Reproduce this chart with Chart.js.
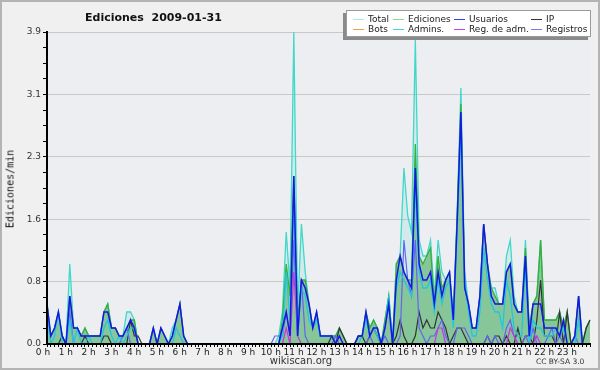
<!DOCTYPE html>
<html>
<head>
<meta charset="utf-8">
<script src="https://cdn.jsdelivr.net/npm/chart.js@4.4.1/dist/chart.umd.min.js"></script>
<style>
  body { margin: 0; background: #fff; }
  #wrap { position: relative; width: 600px; height: 370px; background: #f0f0f0; font-family: "DejaVu Sans", sans-serif; color: #222; overflow: hidden; }
  #wrap canvas { position: absolute; left: 0; top: 0; }
  #frame { position: absolute; left: 0; top: 0; right: 0; bottom: 0; border: 2px solid #b4b4b4; box-sizing: border-box; pointer-events: none; }
  #title { position: absolute; left: 85px; top: 11px; font-weight: bold; font-size: 11px; line-height: 13px; white-space: pre; color: #111; }
  #ytitle { position: absolute; left: 10px; top: 189px; transform: translate(-50%, -50%) rotate(-90deg); font: 10px "DejaVu Sans Mono", monospace; white-space: nowrap; color: #111; }
  #legend { position: absolute; left: 346px; top: 10px; width: 245px; height: 27px; background: #fff; border: 1px solid #9a9a9a; box-shadow: -3px 3px 0 #8a8a8a; box-sizing: border-box; }
  .item { position: absolute; font-size: 9px; line-height: 10px; white-space: nowrap; color: #222; }
  .item i { display: inline-block; width: 11px; height: 0; border-top: 1px solid; vertical-align: middle; margin-right: 4px; }
  #site { position: absolute; left: 251px; width: 100px; top: 355px; text-align: center; font-size: 10px; line-height: 12px; color: #333; }
  #lic { position: absolute; left: 536px; top: 357px; font-size: 7.5px; line-height: 10px; color: #333; white-space: nowrap; }
</style>
</head>
<body>
<div id="wrap">
  <canvas id="chart" width="600" height="370"></canvas>
  <div id="title">Ediciones  2009-01-31</div>
  <div id="ytitle">Ediciones/min</div>
  <div id="legend"></div>
  <div id="site">wikiscan.org</div>
  <div id="lic">CC BY-SA 3.0</div>
  <div id="frame"></div>
</div>
<script>
// Ediciones por 10 minutos, expresadas en ediciones/min (una fila = una hora)
const hourLabels = ["0 h", "1 h", "2 h", "3 h", "4 h", "5 h", "6 h", "7 h", "8 h", "9 h", "10 h", "11 h",
  "12 h", "13 h", "14 h", "15 h", "16 h", "17 h", "18 h", "19 h", "20 h", "21 h", "22 h", "23 h"];
const yMax = 3.9;
const yTickLabels = ["0.0", "0.8", "1.6", "2.3", "3.1", "3.9"];

const total = [
  0.5, 0.1, 0.2, 0.4, 0.1, 0.0,
  1.0, 0.2, 0.2, 0.1, 0.2, 0.1,
  0.1, 0.1, 0.1, 0.4, 0.5, 0.2,
  0.2, 0.1, 0.1, 0.4, 0.4, 0.3,
  0.0, 0.0, 0.0, 0.0, 0.2, 0.0,
  0.2, 0.1, 0.0, 0.2, 0.3, 0.5,
  0.1, 0.0, 0.0, 0.0, 0.0, 0.0,
  0, 0, 0, 0, 0, 0,
  0, 0, 0, 0, 0, 0,
  0, 0, 0, 0, 0, 0,
  0.0, 0.1, 0.4, 1.4, 0.7, 3.9,
  0.4, 1.5, 0.9, 0.5, 0.2, 0.4,
  0.1, 0.1, 0.1, 0.1, 0.1, 0.2,
  0.1, 0.0, 0.0, 0.0, 0.1, 0.1,
  0.4, 0.2, 0.3, 0.2, 0.0, 0.3,
  0.6, 0.0, 1.0, 1.1, 2.2, 1.6,
  1.4, 3.8, 1.3, 1.1, 1.1, 1.3,
  0.6, 1.3, 0.9, 0.8, 0.9, 0.3,
  1.6, 3.2, 0.9, 0.5, 0.2, 0.2,
  0.6, 1.5, 1.0, 0.7, 0.7, 0.5,
  0.5, 1.1, 1.3, 0.6, 0.4, 0.4,
  1.3, 0.2, 0.5, 0.6, 1.3, 0.3,
  0.3, 0.3, 0.3, 0.4, 0.2, 0.4,
  0.0, 0.1, 0.6, 0.0, 0.2, 0.3,
];
const ediciones = [
  0.5, 0.1, 0.2, 0.4, 0.1, 0.0,
  0.6, 0.2, 0.2, 0.1, 0.2, 0.1,
  0.1, 0.1, 0.1, 0.4, 0.5, 0.2,
  0.2, 0.1, 0.1, 0.2, 0.3, 0.3,
  0.0, 0.0, 0.0, 0.0, 0.2, 0.0,
  0.2, 0.1, 0.0, 0.1, 0.3, 0.5,
  0.1, 0.0, 0.0, 0.0, 0.0, 0.0,
  0, 0, 0, 0, 0, 0,
  0, 0, 0, 0, 0, 0,
  0, 0, 0, 0, 0, 0,
  0.0, 0.0, 0.3, 1.0, 0.6, 2.1,
  0.3, 0.8, 0.8, 0.5, 0.2, 0.4,
  0.1, 0.1, 0.1, 0.1, 0.1, 0.2,
  0.1, 0.0, 0.0, 0.0, 0.1, 0.1,
  0.4, 0.2, 0.3, 0.2, 0.0, 0.3,
  0.6, 0.0, 1.0, 1.1, 0.9, 0.8,
  0.8, 2.5, 1.1, 1.0, 1.1, 1.2,
  0.5, 1.1, 0.7, 0.8, 0.9, 0.3,
  1.6, 3.0, 0.7, 0.5, 0.2, 0.2,
  0.6, 1.5, 1.0, 0.7, 0.6, 0.5,
  0.5, 0.9, 1.0, 0.5, 0.4, 0.4,
  1.2, 0.2, 0.5, 0.6, 1.3, 0.3,
  0.3, 0.3, 0.3, 0.4, 0.2, 0.4,
  0.0, 0.1, 0.6, 0.0, 0.2, 0.3,
];
const usuarios = [
  0.5, 0.1, 0.2, 0.4, 0.1, 0.0,
  0.6, 0.2, 0.2, 0.1, 0.1, 0.1,
  0.1, 0.1, 0.1, 0.4, 0.4, 0.2,
  0.2, 0.1, 0.1, 0.2, 0.3, 0.2,
  0.0, 0.0, 0.0, 0.0, 0.2, 0.0,
  0.2, 0.1, 0.0, 0.1, 0.3, 0.5,
  0.1, 0.0, 0.0, 0.0, 0.0, 0.0,
  0, 0, 0, 0, 0, 0,
  0, 0, 0, 0, 0, 0,
  0, 0, 0, 0, 0, 0,
  0.0, 0.0, 0.2, 0.4, 0.1, 2.1,
  0.1, 0.8, 0.7, 0.5, 0.2, 0.4,
  0.1, 0.1, 0.1, 0.1, 0.0, 0.1,
  0.0, 0.0, 0.0, 0.0, 0.1, 0.1,
  0.4, 0.1, 0.2, 0.2, 0.0, 0.2,
  0.5, 0.0, 0.8, 1.1, 0.9, 0.8,
  0.7, 2.2, 1.0, 0.8, 0.8, 0.9,
  0.5, 0.9, 0.6, 0.8, 0.9, 0.3,
  1.5, 2.9, 0.7, 0.5, 0.2, 0.2,
  0.6, 1.5, 1.0, 0.6, 0.5, 0.5,
  0.5, 0.9, 1.0, 0.5, 0.4, 0.4,
  1.1, 0.1, 0.5, 0.5, 0.5, 0.2,
  0.2, 0.2, 0.2, 0.1, 0.3, 0.0,
  0.0, 0.1, 0.6, 0.0, 0.0, 0.0,
];
const ip = [
  0, 0, 0, 0, 0.1, 0,
  0, 0, 0, 0, 0.1, 0,
  0, 0, 0, 0.1, 0.1, 0,
  0, 0, 0, 0, 0.3, 0.1,
  0.1, 0, 0, 0, 0, 0,
  0, 0, 0, 0, 0, 0,
  0, 0, 0, 0, 0, 0,
  0, 0, 0, 0, 0, 0,
  0, 0, 0, 0, 0, 0,
  0, 0, 0, 0, 0, 0,
  0, 0, 0, 0, 0, 0,
  0, 0, 0, 0, 0, 0,
  0, 0, 0, 0.1, 0, 0.2,
  0.1, 0, 0, 0, 0.1, 0.1,
  0, 0.1, 0.2, 0.1, 0, 0,
  0, 0, 0.1, 0.3, 0.1, 0,
  0, 0.1, 0.4, 0.2, 0.3, 0.2,
  0.2, 0.4, 0.3, 0.2, 0, 0.1,
  0.2, 0.2, 0.1, 0, 0, 0,
  0, 0, 0.1, 0, 0.1, 0.1,
  0, 0.1, 0, 0, 0.2, 0,
  0.1, 0.1, 0, 0.3, 0.8, 0.1,
  0.1, 0.1, 0, 0.4, 0, 0.4,
  0, 0, 0, 0, 0.2, 0.3,
];
const bots = new Array(144).fill(0); // ninguna edición de bots ese día
const admins = [
  0.4, 0.0, 0.1, 0.4, 0.0, 0.0,
  0.3, 0.0, 0.2, 0.0, 0.0, 0.1,
  0.0, 0.0, 0.0, 0.2, 0.3, 0.1,
  0.0, 0.1, 0.0, 0.1, 0.2, 0.2,
  0, 0, 0, 0, 0, 0,
  0, 0, 0, 0, 0.2, 0.1,
  0, 0, 0, 0, 0, 0,
  0, 0, 0, 0, 0, 0,
  0, 0, 0, 0, 0, 0,
  0, 0, 0, 0, 0, 0,
  0.0, 0.0, 0.1, 0.9, 0.3, 1.8,
  0.1, 0.7, 0.6, 0.3, 0.2, 0.3,
  0.1, 0.1, 0.1, 0.1, 0.0, 0.0,
  0, 0, 0, 0, 0, 0.1,
  0.3, 0.1, 0.2, 0.1, 0.0, 0.2,
  0.6, 0.0, 0.7, 0.9, 0.8, 0.7,
  0.6, 2.0, 0.9, 0.7, 0.7, 0.8,
  0.4, 0.8, 0.5, 0.7, 0.8, 0.2,
  1.4, 2.7, 0.8, 0.4, 0.1, 0.1,
  0.4, 1.2, 0.8, 0.5, 0.4, 0.4,
  0.2, 0.8, 0.6, 0.2, 0.1, 0.1,
  1.0, 0.0, 0.3, 0.2, 0.2, 0.1,
  0.1, 0.1, 0.2, 0.1, 0.2, 0.0,
  0, 0, 0.3, 0, 0, 0,
];
const regAdm = [
  0, 0, 0, 0, 0, 0,
  0, 0, 0, 0, 0, 0,
  0, 0, 0, 0, 0, 0,
  0, 0, 0, 0, 0, 0,
  0, 0, 0, 0, 0, 0,
  0, 0, 0, 0, 0, 0,
  0, 0, 0, 0, 0, 0,
  0, 0, 0, 0, 0, 0,
  0, 0, 0, 0, 0, 0,
  0, 0, 0, 0, 0, 0,
  0, 0, 0, 0.2, 0, 0.9,
  0.1, 0, 0, 0, 0, 0,
  0, 0, 0, 0, 0, 0,
  0, 0, 0, 0, 0, 0,
  0, 0, 0, 0, 0, 0,
  0, 0, 0, 0, 0, 0,
  0, 0, 0, 0, 0, 0,
  0, 0.2, 0.2, 0, 0, 0,
  0, 0, 0, 0, 0, 0,
  0, 0, 0, 0, 0, 0,
  0, 0, 0.2, 0.1, 0, 0,
  0, 0, 0, 0.1, 0, 0,
  0, 0, 0, 0, 0, 0,
  0, 0, 0, 0, 0, 0,
];
const registros = [
  0, 0, 0, 0, 0, 0,
  0.4, 0, 0, 0, 0, 0,
  0, 0, 0, 0, 0, 0,
  0, 0, 0.1, 0.2, 0, 0,
  0, 0, 0, 0, 0, 0,
  0, 0, 0, 0, 0, 0,
  0, 0, 0, 0, 0, 0,
  0, 0, 0, 0, 0, 0,
  0, 0, 0, 0, 0, 0,
  0, 0, 0, 0, 0, 0,
  0.1, 0.1, 0.1, 0.4, 0.1, 1.3,
  0.1, 0.8, 0.1, 0, 0, 0,
  0, 0, 0, 0, 0.1, 0,
  0, 0, 0, 0, 0, 0,
  0, 0.1, 0, 0, 0, 0.1,
  0, 0, 0, 0.1, 1.3, 0.8,
  0.6, 1.3, 0.2, 0.1, 0, 0.1,
  0.1, 0.2, 0.3, 0.1, 0, 0,
  0.2, 0.2, 0.2, 0.1, 0, 0,
  0, 0, 0.1, 0, 0.1, 0,
  0, 0.2, 0.3, 0.1, 0, 0,
  0.1, 0, 0.2, 0, 0, 0,
  0.1, 0.2, 0, 0.1, 0, 0,
  0, 0.1, 0, 0, 0, 0,
];

// etiquetas de 10 en 10 minutos para el eje x
const timeLabels = total.map((_, i) => `${Math.floor(i / 6)}:${(i % 6) * 10}`);

const series = [
  { label: "Total", data: total, color: "#40d8c8", key: "#ade9e5", fill: "rgba(64,216,200,0.15)", order: 8, width: 1.3 },
  { label: "Ediciones", data: ediciones, color: "#3aae3a", key: "#8fd68f", fill: "rgba(58,162,71,0.5)", order: 7, width: 1.3 },
  { label: "Usuarios", data: usuarios, color: "#1616e8", key: "#3c3cf2", order: 1, width: 1.5 },
  { label: "IP", data: ip, color: "#333333", key: "#333333", order: 6, width: 1.2 },
  { label: "Bots", data: bots, color: "#f0a030", key: "#f5a33b", order: 3, width: 1.2 },
  { label: "Admins.", data: admins, color: "#22c6e2", key: "#3dd3e8", order: 2, width: 1.3 },
  { label: "Reg. de adm.", data: regAdm, color: "#d030e0", key: "#d63be8", order: 4, width: 1.2 },
  { label: "Registros", data: registros, color: "#6464f0", key: "#7a7af5", order: 5, width: 1.2 },
];

// leyenda: 4 columnas x 2 filas
const legendCols = [6, 46, 107, 184];
const legendEl = document.getElementById("legend");
series.forEach((s, i) => {
  const item = document.createElement("div");
  item.className = "item";
  item.style.left = legendCols[i % 4] + "px";
  item.style.top = (i < 4 ? 3 : 13) + "px";
  item.innerHTML = `<i style="border-color:${s.key}"></i>${s.label}`;
  legendEl.appendChild(item);
});

const plotBg = {
  id: "plotBg",
  beforeDraw(chart) {
    const { ctx, chartArea: a } = chart;
    ctx.save();
    ctx.fillStyle = "#eceef1";
    ctx.fillRect(a.left, a.top, a.right - a.left, a.bottom - a.top);
    ctx.restore();
  },
};
const axisOnTop = {
  id: "axisOnTop",
  afterDatasetsDraw(chart) {
    const { ctx, chartArea: a } = chart;
    ctx.save();
    ctx.strokeStyle = "#000";
    ctx.lineWidth = 2;
    ctx.beginPath();
    ctx.moveTo(a.left, a.top);
    ctx.lineTo(a.left, a.bottom);
    ctx.lineTo(a.right, a.bottom);
    ctx.stroke();
    ctx.restore();
  },
};

const tickFont = { family: "DejaVu Sans", size: 9 };

new Chart(document.getElementById("chart"), {
  type: "line",
  data: {
    labels: timeLabels,
    datasets: series.map((s) => ({
      label: s.label,
      data: s.data,
      borderColor: s.color,
      backgroundColor: s.fill || s.color,
      fill: s.fill ? "origin" : false,
      borderWidth: s.width,
      pointRadius: 0,
      tension: 0,
      order: s.order,
    })),
  },
  options: {
    responsive: false,
    animation: false,
    layout: { padding: { left: 0, top: 32, right: 10, bottom: 0 } },
    plugins: { legend: { display: false }, tooltip: { enabled: false } },
    scales: {
      x: {
        type: "category",
        offset: false,
        afterFit: (s) => { s.height = 26; },
        ticks: {
          autoSkip: false, maxRotation: 0, minRotation: 0, padding: 0, labelOffset: -4,
          font: tickFont, color: "#222",
          callback: (v, i) => (i % 6 === 0 ? hourLabels[i / 6] : ""),
        },
        grid: { drawOnChartArea: false, color: "#000", tickColor: "#000", tickLength: 3 },
        border: { color: "#000", width: 2 },
      },
      y: {
        min: 0,
        max: yMax,
        afterBuildTicks: (s) => { s.ticks = Array.from({ length: 21 }, (_, k) => ({ value: (k * yMax) / 20 })); },
        afterFit: (s) => { s.width = 47; },
        ticks: {
          autoSkip: false, padding: 2, font: tickFont, color: "#333",
          callback: (v, i) => (i % 4 === 0 ? yTickLabels[i / 4] : ""),
        },
        grid: {
          color: (c) => (c.index % 4 === 0 ? "#c8c8c8" : "rgba(0,0,0,0)"),
          tickColor: "#000",
          tickLength: 4,
        },
        border: { color: "#000", width: 2 },
      },
    },
  },
  plugins: [plotBg, axisOnTop],
});
</script>
</body>
</html>
